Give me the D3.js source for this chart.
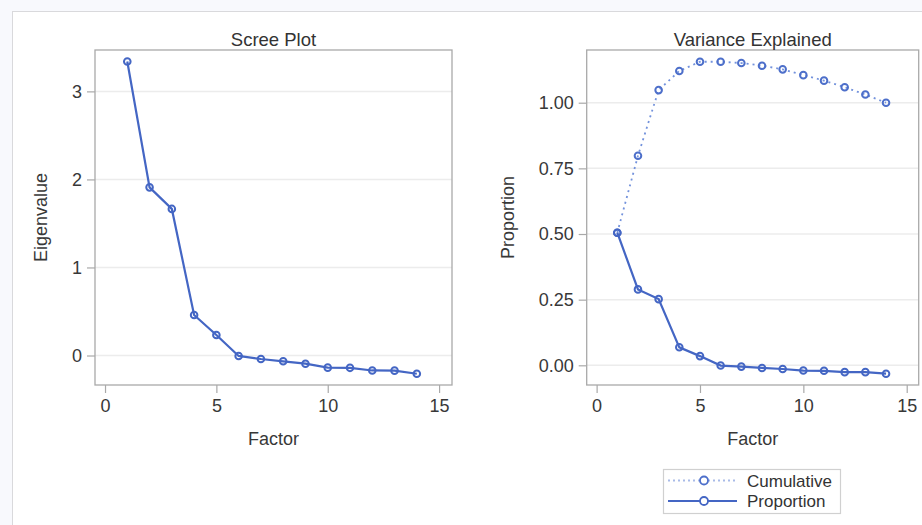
<!DOCTYPE html>
<html>
<head>
<meta charset="utf-8">
<script src="https://d3js.org/d3.v7.min.js"></script>
<style>
  body { margin: 0; background: #f8f9fd; }
  svg { display: block; font-family: "Liberation Sans", Arial, sans-serif; }
</style>
</head>
<body>
<div id="chart"></div>
<script>
// data
var factors = [1, 2, 3, 4, 5, 6, 7, 8, 9, 10, 11, 12, 13, 14];
var eigenvalues = [3.34, 1.91, 1.665, 0.46, 0.233, -0.005, -0.04, -0.066, -0.093, -0.138, -0.14, -0.17, -0.172, -0.207];
var proportion = [0.505, 0.289, 0.252, 0.0685, 0.035, -0.001, -0.005, -0.01, -0.014, -0.02, -0.021, -0.026, -0.026, -0.032];
var cumulative = [0.505, 0.798, 1.048, 1.121, 1.156, 1.156, 1.151, 1.141, 1.127, 1.105, 1.084, 1.059, 1.031, 1.0];
var xTicks = [0, 5, 10, 15];
var eigenTicks = [0, 1, 2, 3];
var propTicks = [0, 0.25, 0.5, 0.75, 1.0];

var W = 922, H = 525;
var lineBlue = "#4466c4", lightBlue = "#7392dc", markBlue = "#4d6fca";

var svg = d3.select("#chart").append("svg")
    .attr("width", W)
    .attr("height", H);

// outer frame
svg.append("rect")
    .attr("x", 12.5).attr("y", 11.5)
    .attr("width", W + 20).attr("height", H + 20)
    .attr("fill", "#fff")
    .attr("stroke", "#d9d9dc");

function panel(opt) {
    var x = d3.scaleLinear().domain(opt.xDomain).range([opt.left, opt.right]);
    var y = d3.scaleLinear().domain(opt.yDomain).range([opt.bottom, opt.top]);
    var g = svg.append("g");

    // grid lines
    g.selectAll(".grid").data(opt.yTicks).enter().append("line")
        .attr("x1", opt.left).attr("x2", opt.right)
        .attr("y1", function(d) { return y(d); })
        .attr("y2", function(d) { return y(d); })
        .attr("stroke", "#ececec")
        .attr("stroke-width", 1.5);

    // axes
    var ya = g.append("g")
        .attr("transform", "translate(" + opt.left + ",0)")
        .call(d3.axisLeft(y).tickValues(opt.yTicks).tickFormat(opt.yFormat).tickSize(8).tickPadding(5));
    var xa = g.append("g")
        .attr("transform", "translate(0," + opt.bottom + ")")
        .call(d3.axisBottom(x).tickValues(xTicks).tickSize(8).tickPadding(6));
    [ya, xa].forEach(function(a) {
        a.select(".domain").remove();
        a.selectAll("line").attr("stroke", "#a9a9a9").attr("stroke-width", 1.2);
        a.selectAll("text").attr("fill", "#383838").style("font-size", "18px").style("font-family", "Liberation Sans, Arial, sans-serif");
    });

    // frame
    g.append("rect")
        .attr("x", opt.left).attr("y", opt.top)
        .attr("width", opt.right - opt.left).attr("height", opt.bottom - opt.top)
        .attr("fill", "none")
        .attr("stroke", "#a9a9a9")
        .attr("stroke-width", 1.3);

    // title and labels
    var cx = (opt.left + opt.right) / 2;
    g.append("text").attr("x", cx).attr("y", 46)
        .attr("text-anchor", "middle").attr("fill", "#333").style("font-size", "18.5px")
        .text(opt.title);
    g.append("text").attr("x", cx).attr("y", 445)
        .attr("text-anchor", "middle").attr("fill", "#383838").style("font-size", "18px")
        .text("Factor");
    g.append("text")
        .attr("transform", "translate(" + opt.yLabelX + "," + ((opt.top + opt.bottom) / 2) + ") rotate(-90)")
        .attr("text-anchor", "middle").attr("fill", "#383838").style("font-size", "18px")
        .text(opt.yLabel);

    opt.series.forEach(function(s) {
        var line = d3.line()
            .x(function(d, i) { return x(factors[i]); })
            .y(function(d) { return y(d); });
        g.append("path").datum(s.values)
            .attr("d", line)
            .attr("fill", "none")
            .attr("stroke", s.color)
            .attr("stroke-width", s.width)
            .attr("stroke-dasharray", s.dash);
        g.selectAll(null).data(s.values).enter().append("circle")
            .attr("cx", function(d, i) { return x(factors[i]); })
            .attr("cy", function(d) { return y(d); })
            .attr("r", 3.3)
            .attr("fill", "none")
            .attr("stroke", s.markColor)
            .attr("stroke-width", 2);
    });
}

panel({
    left: 95, right: 452, top: 50, bottom: 385,
    xDomain: [-0.45, 15.58], yDomain: [-0.335, 3.47],
    yTicks: eigenTicks, yFormat: d3.format("d"),
    title: "Scree Plot", yLabel: "Eigenvalue", yLabelX: 47,
    series: [{ values: eigenvalues, color: lineBlue, markColor: lineBlue, width: 2.2, dash: null }]
});

panel({
    left: 586.7, right: 918.7, top: 50, bottom: 385,
    xDomain: [-0.48, 15.58], yDomain: [-0.075, 1.2007],
    yTicks: propTicks, yFormat: d3.format(".2f"),
    title: "Variance Explained", yLabel: "Proportion", yLabelX: 514,
    series: [
        { values: cumulative, color: lightBlue, markColor: markBlue, width: 1.8, dash: "2,4" },
        { values: proportion, color: lineBlue, markColor: lineBlue, width: 2.2, dash: null }
    ]
});

// legend
var lg = svg.append("g");
lg.append("rect")
    .attr("x", 663.5).attr("y", 469.5).attr("width", 177).attr("height", 44)
    .attr("fill", "#fff").attr("stroke", "#d0d0d0").attr("stroke-width", 1.2);
var legendItems = [
    { name: "Cumulative", color: "#a9bbe8", markColor: markBlue, width: 1.8, dash: "2,3", y: 480.5 },
    { name: "Proportion", color: lineBlue, markColor: lineBlue, width: 2.2, dash: null, y: 501 }
];
legendItems.forEach(function(d) {
    lg.append("line").attr("x1", 668).attr("x2", 737).attr("y1", d.y).attr("y2", d.y)
        .attr("stroke", d.color).attr("stroke-width", d.width).attr("stroke-dasharray", d.dash);
    lg.append("circle").attr("cx", 704).attr("cy", d.y).attr("r", 4)
        .attr("fill", "#fff").attr("stroke", d.markColor).attr("stroke-width", 1.8);
    lg.append("text").attr("x", 747).attr("y", d.y + 6)
        .attr("fill", "#333").style("font-size", "17px").text(d.name);
});
</script>
</body>
</html>
